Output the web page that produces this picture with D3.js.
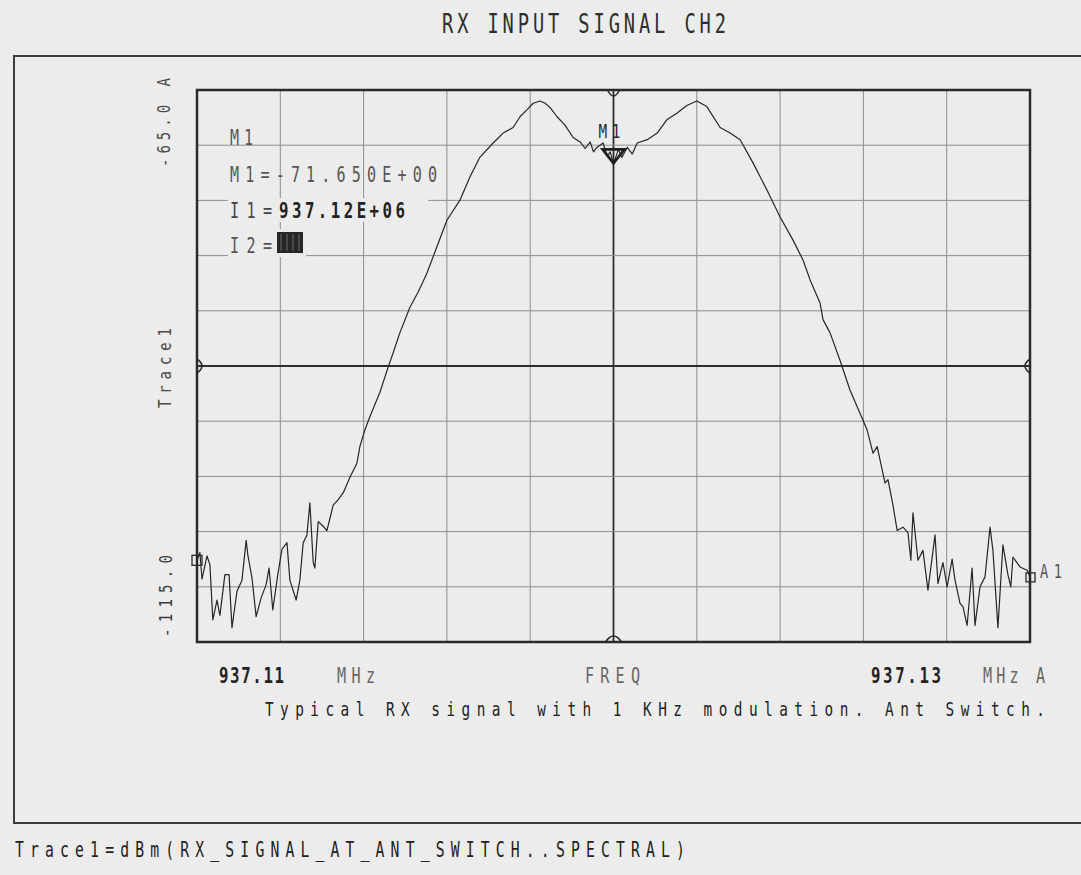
<!DOCTYPE html>
<html>
<head>
<meta charset="utf-8">
<script src="https://cdn.jsdelivr.net/npm/d3@7/dist/d3.min.js"></script>
<style>
  html, body { margin: 0; padding: 0; background: #ececec; }
  svg { display: block; }
</style>
</head>
<body>
<svg id="chart" width="1081" height="875"></svg>
<script>
// ---------------- DATA ----------------
const startMHz = 937.11;
const stopMHz = 937.13;
const refTopDbm = -65.0;
const refBottomDbm = -115.0;

// frequency offset from start (kHz)
const freqOffsetKHz = [
  0.00, 0.07, 0.12, 0.24, 0.31, 0.38, 0.48, 0.55, 0.67, 0.77, 0.84, 0.96, 1.08, 1.18, 1.22, 1.32,
  1.42, 1.54, 1.66, 1.73, 1.82, 1.94, 2.04, 2.16, 2.23, 2.38, 2.47, 2.55, 2.64, 2.71, 2.79, 2.83,
  2.91, 3.00, 3.12, 3.27, 3.39, 3.51, 3.67, 3.84, 3.91, 4.03, 4.15, 4.39, 4.59, 4.71, 4.87, 5.11,
  5.31, 5.52, 5.76, 6.00, 6.31, 6.55, 6.79, 7.11, 7.35, 7.59, 7.76, 7.92, 8.07, 8.24, 8.36, 8.48,
  8.64, 8.84, 9.03, 9.20, 9.32, 9.44, 9.52, 9.60, 9.75, 9.85, 9.92, 10.00, 10.12, 10.20, 10.33, 10.45,
  10.57, 10.81, 11.05, 11.28, 11.52, 11.76, 12.00, 12.24, 12.56, 12.80, 13.04, 13.35, 13.69, 14.00,
  14.31, 14.55, 14.72, 14.96, 15.03, 15.20, 15.44, 15.68, 15.92, 16.09, 16.23, 16.33, 16.52, 16.59,
  16.71, 16.81, 16.95, 17.07, 17.14, 17.19, 17.31, 17.43, 17.55, 17.72, 17.79, 17.91, 18.01, 18.13,
  18.20, 18.32, 18.39, 18.49, 18.61, 18.68, 18.80, 18.92, 19.04, 19.11, 19.23, 19.35, 19.47, 19.54,
  19.59, 19.76, 19.93, 20.00
];
// trace level (dBm)
const levelDbm = [
  -107.6, -106.9, -109.3, -107.2, -108.0, -113.0, -111.2, -112.6, -108.9, -108.9, -113.7, -110.4, -109.4, -105.8, -107.1, -109.2,
  -112.7, -111.0, -109.8, -108.3, -112.1, -108.9, -106.6, -106.0, -109.4, -111.2, -109.4, -106.0, -105.3, -102.4, -107.8, -108.3,
  -104.1, -104.4, -104.9, -102.6, -102.1, -101.5, -100.1, -98.8, -97.3, -95.8, -94.6, -92.4, -90.1, -88.8, -87.0, -84.7,
  -83.3, -81.6, -79.2, -76.8, -75.0, -72.9, -71.1, -69.8, -68.9, -68.4, -67.4, -66.8, -66.2, -66.0, -66.2, -66.6,
  -67.4, -68.2, -69.3, -69.7, -70.3, -69.7, -70.6, -70.2, -69.8, -71.0, -70.6, -71.65, -70.4, -71.1, -70.2, -70.8,
  -69.8, -69.5, -68.9, -67.7, -67.1, -66.4, -66.0, -66.5, -68.4, -68.9, -69.5, -71.6, -74.1, -76.5,
  -78.6, -80.4, -82.2, -84.3, -85.8, -87.0, -89.5, -92.2, -94.3, -95.8, -97.9, -97.3, -100.6, -100.3,
  -102.6, -104.9, -104.6, -105.1, -107.6, -103.3, -107.6, -106.7, -110.3, -105.3, -109.7, -107.8, -110.0, -107.5,
  -109.4, -111.5, -111.8, -113.5, -108.3, -113.5, -110.0, -109.1, -104.6, -106.7, -113.7, -106.2, -108.9, -110.0,
  -107.3, -108.2, -108.5, -109.1
];

const titleText = "RX INPUT SIGNAL CH2";
const yAxisLabels = ["-65.0 A", "Trace1", "-115.0"];
const xAxisLabels = ["937.11", "MHz", "FREQ", "937.13", "MHz A"];
const markerName = "M1";
const markerLines = ["M1", "M1=-71.650E+00", "I1=", "937.12E+06", "I2="];
const markerFreqMHz = 937.12;
const markerLevelDbm = -71.65;
const endMarkerLabel = "A1";
const subtitleText = "Typical RX signal with 1 KHz modulation. Ant Switch.";
const footerText = "Trace1=dBm(RX_SIGNAL_AT_ANT_SWITCH..SPECTRAL)";

// ---------------- CHART ----------------
const svg = d3.select("#chart");
const W = 1081, H = 875;
const plot = { left: 197, right: 1030, top: 90, bottom: 642 };

const x = d3.scaleLinear().domain([startMHz, stopMHz]).range([plot.left, plot.right]);
const y = d3.scaleLinear().domain([refBottomDbm, refTopDbm]).range([plot.bottom, plot.top]);

svg.append("rect").attr("width", W).attr("height", H).attr("fill", "#ececec");

// outer frame
svg.append("rect")
  .attr("x", 14).attr("y", 56).attr("width", 1100).attr("height", 767)
  .attr("fill", "none").attr("stroke", "#3c3c3c").attr("stroke-width", 2);

const FONT = "'DejaVu Sans Mono', 'Liberation Mono', monospace";
function label(str, x0, y0, width, o) {
  o = o || {};
  const sx = o.sx || 0.72;
  let tr = `translate(${x0},${y0})`;
  if (o.rot) tr += ` rotate(${o.rot})`;
  tr += ` scale(${sx},1)`;
  return svg.append("text")
    .attr("transform", tr)
    .attr("font-family", FONT)
    .attr("font-size", o.size || 21)
    .attr("font-weight", o.weight || "normal")
    .attr("fill", o.color || "#3a3a3a")
    .attr("textLength", width / sx)
    .attr("lengthAdjust", "spacing")
    .text(str);
}

// grid
const xTicks = x.ticks(10);
const yTicks = y.ticks(10);
const centerF = (startMHz + stopMHz) / 2;
const centerL = (refTopDbm + refBottomDbm) / 2;
const grid = svg.append("g");
grid.selectAll("line.v").data(xTicks).join("line")
  .attr("x1", d => x(d)).attr("x2", d => x(d))
  .attr("y1", plot.top).attr("y2", plot.bottom)
  .attr("stroke", d => Math.abs(d - centerF) < 1e-7 ? "#2e2e2e" : "#8e8e8e")
  .attr("stroke-width", d => Math.abs(d - centerF) < 1e-7 ? 1.8 : 1);
grid.selectAll("line.h").data(yTicks).join("line")
  .attr("y1", d => y(d)).attr("y2", d => y(d))
  .attr("x1", plot.left).attr("x2", plot.right)
  .attr("stroke", d => Math.abs(d - centerL) < 1e-7 ? "#2e2e2e" : "#8e8e8e")
  .attr("stroke-width", d => Math.abs(d - centerL) < 1e-7 ? 1.8 : 1);

// marker text backgrounds (hide grid behind readouts)
svg.append("rect").attr("x", 228).attr("y", 198).attr("width", 200).attr("height", 24).attr("fill", "#ececec");
svg.append("rect").attr("x", 228).attr("y", 229).attr("width", 78).attr("height", 28).attr("fill", "#ececec");

// plot border
svg.append("rect")
  .attr("x", plot.left).attr("y", plot.top)
  .attr("width", plot.right - plot.left).attr("height", plot.bottom - plot.top)
  .attr("fill", "none").attr("stroke", "#2a2a2a").attr("stroke-width", 2.5);

// trace
const pts = freqOffsetKHz.map((f, i) => [startMHz + f / 1000, levelDbm[i]]);
const line = d3.line().x(d => x(d[0])).y(d => y(d[1]));
svg.append("path").datum(pts)
  .attr("d", line)
  .attr("fill", "none").attr("stroke", "#262626").attr("stroke-width", 1.2)
  .attr("stroke-linejoin", "round");

// border reference markers
const cx = x(centerF), cy = y(centerL);
const mk = svg.append("g").attr("fill", "none").attr("stroke", "#2a2a2a").attr("stroke-width", 1.6);
mk.append("path").attr("d", `M${plot.left},${cy - 7} Q${plot.left + 10},${cy} ${plot.left},${cy + 7}`);
mk.append("path").attr("d", `M${plot.right},${cy - 7} Q${plot.right - 10},${cy} ${plot.right},${cy + 7}`);
mk.append("path").attr("d", `M${cx - 6},${plot.top} Q${cx},${plot.top + 12} ${cx + 6},${plot.top}`);
mk.append("path").attr("d", `M${cx - 8},${plot.bottom} Q${cx},${plot.bottom - 12} ${cx + 8},${plot.bottom}`);

// start / end squares
const first = pts[0], last = pts[pts.length - 1];
mk.append("rect").attr("x", x(first[0]) - 5).attr("y", y(first[1]) - 5).attr("width", 10).attr("height", 10).attr("stroke-width", 1.3);
mk.append("rect").attr("x", x(last[0]) - 4).attr("y", y(last[1]) - 4).attr("width", 9).attr("height", 9).attr("stroke-width", 1.3);

// M1 marker triangle
const mx = x(markerFreqMHz), my = y(markerLevelDbm);
svg.append("path")
  .attr("d", `M${mx - 11},${my - 14} L${mx + 11},${my - 14} L${mx},${my} Z`)
  .attr("fill", "none").attr("stroke", "#1e1e1e").attr("stroke-width", 2.6).attr("stroke-linejoin", "miter");
label(markerName, mx - 15, my - 25, 22, { size: 20, color: "#2a2a2a" });

// title
label(titleText, 442, 33, 284, { size: 26, color: "#2e2e2e" });

// y-axis labels (rotated)
label(yAxisLabels[0], 170, 167, 89, { size: 18, rot: -90, color: "#4a4a4a", sx: 0.78 });
label(yAxisLabels[1], 171, 408, 80, { size: 18, rot: -90, color: "#4a4a4a", sx: 0.78 });
label(yAxisLabels[2], 172, 637, 82, { size: 18, rot: -90, color: "#3a3a3a", sx: 0.78 });

// x-axis labels
label(xAxisLabels[0], 219, 683, 65, { size: 21, weight: "bold", color: "#222", sx: 0.75 });
label(xAxisLabels[1], 337, 683, 38, { size: 21, color: "#666" });
label(xAxisLabels[2], 585, 683, 55, { size: 21, color: "#666" });
label(xAxisLabels[3], 871, 683, 70, { size: 21, weight: "bold", color: "#222", sx: 0.75 });
label(xAxisLabels[4], 983, 683, 62, { size: 21, color: "#666" });

// marker readouts
label(markerLines[0], 230, 145, 23, { size: 21, color: "#555" });
label(markerLines[1], 230, 182, 207, { size: 21, color: "#555" });
label(markerLines[2], 230, 218, 42, { size: 21, color: "#444" });
label(markerLines[3], 279, 218, 126, { size: 21, weight: "bold", color: "#222", sx: 0.75 });
label(markerLines[4], 230, 253, 42, { size: 21, color: "#555" });
svg.append("rect").attr("x", 277).attr("y", 232).attr("width", 26).attr("height", 21).attr("fill", "#262626");
svg.append("g").selectAll("line").data(d3.range(4)).join("line")
  .attr("x1", (d, i) => 281 + i * 6).attr("x2", (d, i) => 281 + i * 6)
  .attr("y1", 234).attr("y2", 251).attr("stroke", "#6a6a6a").attr("stroke-width", 1);

// end marker label
label(endMarkerLabel, 1040, 578, 22, { size: 19, color: "#555" });

// subtitle and footer
label(subtitleText, 265, 716, 780, { size: 20, color: "#222", sx: 0.72 });
label(footerText, 15, 857, 670, { size: 20.5, color: "#222", sx: 0.72 });
</script>
</body>
</html>
